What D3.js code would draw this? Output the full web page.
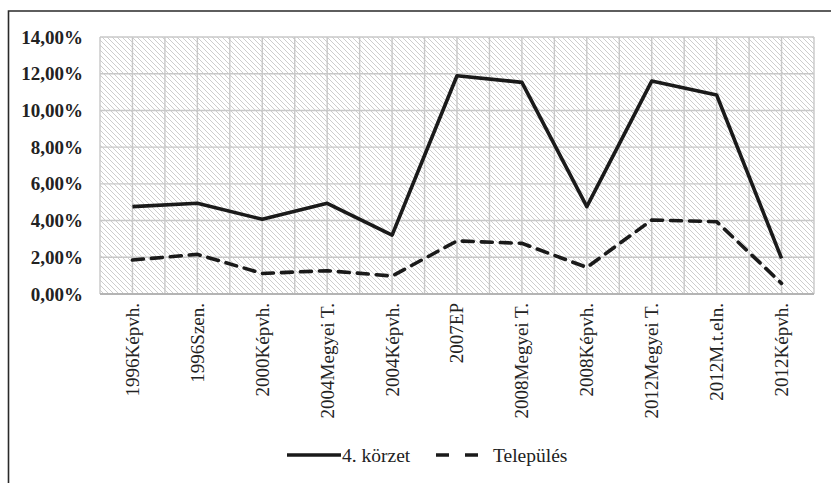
<!DOCTYPE html>
<html>
<head>
<meta charset="utf-8">
<script src="https://cdn.jsdelivr.net/npm/d3@7/dist/d3.min.js"></script>
<style>
  html, body { margin: 0; padding: 0; background: #fff; }
  svg { display: block; }
  svg text { font-family: "Liberation Serif", "Times New Roman", Tinos, serif; }
</style>
</head>
<body>
<svg id="chart" width="831" height="483"></svg>
<script>
// Election categories (year + election type)
const categories = [
  "1996Képvh.", "1996Szen.", "2000Képvh.", "2004Megyei T.", "2004Képvh.",
  "2007EP", "2008Megyei T.", "2008Képvh.", "2012Megyei T.", "2012M.t.eln.", "2012Képvh."
];
// Share values (percent)
const korzet4 = [4.76, 4.94, 4.07, 4.94, 3.21, 11.89, 11.53, 4.76, 11.60, 10.84, 1.94];
const telepules = [1.85, 2.16, 1.12, 1.27, 0.98, 2.89, 2.76, 1.45, 4.03, 3.94, 0.58];
const yTicks = [0, 2, 4, 6, 8, 10, 12, 14];
const seriesNames = ["4. körzet", "Település"];

const serif = '"Liberation Serif", "Times New Roman", serif';
const svg = d3.select("#chart");
const W = 831, H = 483;
const plot = { left: 100, right: 814, top: 37, bottom: 294 };

// Outer frame (only top and left edges fall inside the canvas)
svg.append("path")
  .attr("d", `M8.5,${H} L8.5,11 L${W},11`)
  .attr("fill", "none").attr("stroke", "#2a2a2a").attr("stroke-width", 1.6);

// Diagonal hatch fill for the plot area
const defs = svg.append("defs");
const pat = defs.append("pattern")
  .attr("id", "hatch").attr("patternUnits", "userSpaceOnUse")
  .attr("width", 5).attr("height", 5);
pat.append("rect").attr("width", 5).attr("height", 5).attr("fill", "#fff");
pat.append("path")
  .attr("d", "M-1,-1 L6,6 M-1,4 L1,6 M4,-1 L6,1")
  .attr("stroke", "#cdcdcd").attr("stroke-width", 1);

const x = d3.scaleBand().domain(categories).range([plot.left, plot.right]).padding(0);
const y = d3.scaleLinear().domain([0, 14]).range([plot.bottom, plot.top]);
const cx = d => x(d) + x.bandwidth() / 2;

svg.append("rect")
  .attr("x", plot.left).attr("y", plot.top)
  .attr("width", plot.right - plot.left).attr("height", plot.bottom - plot.top)
  .attr("fill", "url(#hatch)");

// Grid: horizontal at each tick, vertical at band edges and centres
const grid = svg.append("g").attr("stroke", "#c8c8c8").attr("stroke-width", 1.4);
grid.selectAll("line.h").data(yTicks).join("line")
  .attr("x1", plot.left).attr("x2", plot.right)
  .attr("y1", d => y(d)).attr("y2", d => y(d));
const vx = [];
categories.forEach(c => { vx.push(x(c)); vx.push(cx(c)); });
vx.push(plot.right);
grid.selectAll("line.v").data(vx).join("line")
  .attr("x1", d => d).attr("x2", d => d)
  .attr("y1", plot.top).attr("y2", plot.bottom);

// Bottom axis line
svg.append("line")
  .attr("x1", plot.left).attr("x2", plot.right)
  .attr("y1", plot.bottom).attr("y2", plot.bottom)
  .attr("stroke", "#b4b4b4").attr("stroke-width", 2);

// Y axis labels
const fmt = v => v.toFixed(2).replace(".", ",") + "%";
const yAxis = d3.axisLeft(y).tickValues(yTicks).tickFormat(fmt).tickSize(0).tickPadding(17);
const yg = svg.append("g").attr("transform", `translate(${plot.left},0)`).call(yAxis)
  .attr("font-family", serif);
yg.select(".domain").remove();
yg.selectAll("text")
  .style("font-family", serif)
  .attr("font-size", 19).attr("font-weight", "bold").attr("fill", "#222");

// X axis labels, rotated
const xAxis = d3.axisBottom(x).tickSize(0).tickPadding(0);
const xg = svg.append("g").attr("transform", `translate(0,${plot.bottom})`).call(xAxis)
  .attr("font-family", serif);
xg.select(".domain").remove();
xg.selectAll("text")
  .style("font-family", serif)
  .attr("font-size", 19).attr("fill", "#222")
  .attr("text-anchor", "end")
  .attr("transform", "translate(0,9) rotate(-90)")
  .attr("x", 0).attr("y", 0).attr("dy", "0.34em");

// Series lines
const line = d3.line().x((d, i) => cx(categories[i])).y(d => y(d));
svg.append("path").datum(korzet4)
  .attr("d", line).attr("fill", "none")
  .attr("stroke", "#1a1a1a").attr("stroke-width", 3.6).attr("stroke-linejoin", "round");
svg.append("path").datum(telepules)
  .attr("d", line).attr("fill", "none")
  .attr("stroke", "#1a1a1a").attr("stroke-width", 3.6)
  .attr("stroke-dasharray", "11,8").attr("stroke-linecap", "round");

// Legend
const lg = svg.append("g").style("font-family", serif)
  .attr("font-size", 19.5).attr("fill", "#222");
lg.append("line").attr("x1", 287).attr("x2", 341).attr("y1", 455).attr("y2", 455)
  .attr("stroke", "#1a1a1a").attr("stroke-width", 3.6);
lg.append("text").attr("x", 342).attr("y", 455).attr("dy", "0.34em").text(seriesNames[0]);
lg.append("line").attr("x1", 436).attr("x2", 478).attr("y1", 455).attr("y2", 455)
  .attr("stroke", "#1a1a1a").attr("stroke-width", 3.6)
  .attr("stroke-dasharray", "13,16");
lg.append("text").attr("x", 493).attr("y", 455).attr("dy", "0.34em").text(seriesNames[1]);
</script>
</body>
</html>
